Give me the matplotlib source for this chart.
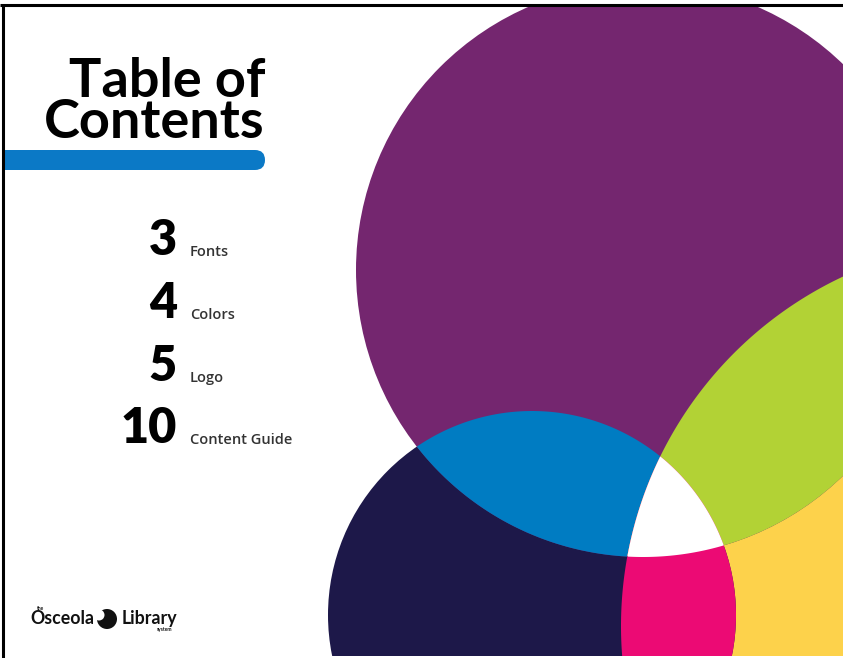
import numpy as np
import matplotlib
matplotlib.use("Agg")
import matplotlib.pyplot as plt
from matplotlib.patches import Circle, Polygon, FancyBboxPatch

# circles of the decoration (page pixels, y down)
circle_names = ["purple", "navy", "third"]
circle_cx = [643, 532, 1007]
circle_cy = [270, 615, 626]
circle_r = [287, 204, 386]

# fill colour for every combination of circles
region_sets = [(2,), (1,), (0,), (0, 1), (0, 2), (1, 2), (0, 1, 2)]
region_colors = ["#FDD24B", "#1D1849", "#74266F", "#007CC2", "#B2D235", "#EC0A74", "#FFFFFF"]

# table of contents
toc_pages = ["3", "4", "5", "10"]
toc_labels = ["Fonts", "Colors", "Logo", "Content Guide"]

W, H = 843, 658


def region_polygon(ids, n=2400):
    # intersection of convex circles -> boundary points inside all the others
    pts = []
    for i in ids:
        t = np.linspace(0, 2 * np.pi, n, endpoint=False)
        x = circle_cx[i] + circle_r[i] * np.cos(t)
        y = circle_cy[i] + circle_r[i] * np.sin(t)
        keep = np.ones(n, bool)
        for j in ids:
            if j != i:
                keep &= (x - circle_cx[j]) ** 2 + (y - circle_cy[j]) ** 2 <= circle_r[j] ** 2 + 1e-6
        pts.append(np.column_stack([x[keep], y[keep]]))
    pts = np.vstack(pts)
    c = pts.mean(axis=0)
    order = np.argsort(np.arctan2(pts[:, 1] - c[1], pts[:, 0] - c[0]))
    return pts[order]


fig = plt.figure(figsize=(W / 100, H / 100), dpi=100)
ax = fig.add_axes([0, 0, 1, 1])
ax.set_xlim(0, W)
ax.set_ylim(H, 0)
ax.axis("off")

page = plt.Rectangle((3, 5), W, 651, facecolor="white", edgecolor="none")
ax.add_patch(page)

for ids, col in zip(region_sets, region_colors):
    if len(ids) == 1:
        i = ids[0]
        p = Circle((circle_cx[i], circle_cy[i]), circle_r[i], facecolor=col, edgecolor="none")
    else:
        p = Polygon(region_polygon(ids), closed=True, facecolor=col, edgecolor="none")
    ax.add_patch(p)
    p.set_clip_path(page)

# page border (top and left)
ax.plot([0, W], [5, 5], color="black", lw=2.2, solid_capstyle="butt")
ax.plot([3, 3], [5, H], color="black", lw=2.2, solid_capstyle="butt")

# title, one text block with tight line spacing
ax.text(265, 138, "Table of\nContents", ha="right", va="baseline", multialignment="right",
        fontsize=39, fontweight="bold", family="Lato", color="black", linespacing=0.8)

# blue bar with rounded right end
bar = FancyBboxPatch((-20, 150), 285, 20, boxstyle="round,pad=0,rounding_size=10",
                     facecolor="#0B79C6", edgecolor="none")
ax.add_patch(bar)
bar.set_clip_path(page)

# contents list
for k, (num, lab) in enumerate(zip(toc_pages, toc_labels)):
    yb = 255 + k * 62.8
    ax.text(177, yb, num, ha="right", va="baseline", fontsize=35,
            fontweight="heavy", family="Lato", color="black")
    ax.text(190, yb + 1, lab, ha="left", va="baseline", fontsize=10.5,
            fontweight="semibold", family="Open Sans", color="#333333")

# logo
ax.text(30, 624, "Osceola", ha="left", va="baseline", fontsize=12.8,
        fontweight="bold", family="Lato", color="#111111")
ax.text(37, 610, "the", ha="left", va="baseline", fontsize=3.5,
        fontweight="bold", family="Lato", color="#111111")
ax.add_patch(Circle((107, 619), 10, facecolor="#111111", edgecolor="none"))
ax.add_patch(Circle((99, 615), 5.5, facecolor="white", edgecolor="none"))
ax.text(122, 624, "Library", ha="left", va="baseline", fontsize=12.8,
        fontweight="bold", family="Lato", color="#111111")
ax.text(157, 631, "system", ha="left", va="baseline", fontsize=3.5,
        fontweight="bold", family="Lato", color="#111111")

fig.savefig("out.png", dpi=100, facecolor="white")
